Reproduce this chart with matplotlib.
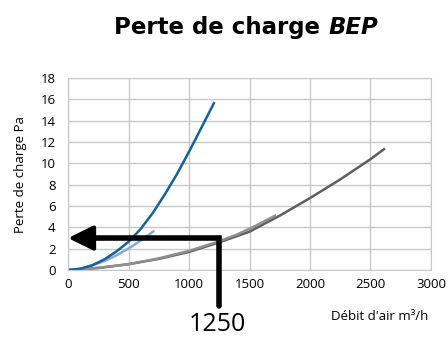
import matplotlib.pyplot as plt
import numpy as np

# Courbes de perte de charge (débit m3/h -> Pa)
debit_bleu = [0, 100, 200, 300, 400, 500, 600, 700, 800, 900, 1000, 1100, 1210]
perte_bleu = [0, 0.12, 0.45, 1.0, 1.75, 2.65, 3.85, 5.35, 7.1, 9.0, 11.1, 13.3, 15.75]

debit_bleu_clair = [0, 100, 200, 300, 400, 500, 600, 713]
perte_bleu_clair = [0, 0.13, 0.43, 0.85, 1.38, 2.02, 2.76, 3.7]

debit_gris_clair = [0, 250, 500, 750, 1000, 1250, 1400, 1550, 1720]
perte_gris_clair = [0, 0.2, 0.55, 1.1, 1.8, 2.7, 3.35, 4.15, 5.15]

debit_gris = [0, 250, 500, 750, 1000, 1250, 1500, 1750, 2000, 2250, 2500, 2620]
perte_gris = [0, 0.2, 0.55, 1.05, 1.7, 2.6, 3.6, 5.1, 6.75, 8.5, 10.4, 11.4]

debit_lecture = 1250
perte_lecture = 3

xticks = [0, 500, 1000, 1500, 2000, 2500, 3000]
yticks = [0, 2, 4, 6, 8, 10, 12, 14, 16, 18]

plt.rcParams['font.family'] = ['Open Sans', 'DejaVu Sans']

fig = plt.figure(figsize=(4.48, 3.38), dpi=100)
ax = fig.add_axes([0.152, 0.201, 0.81, 0.568])

ax.plot(debit_gris, perte_gris, color='#5f5f5f', lw=1.8, solid_capstyle='butt')
ax.plot(debit_gris_clair, perte_gris_clair, color='#8f8f8f', lw=1.8, solid_capstyle='butt')
ax.plot(debit_bleu_clair, perte_bleu_clair, color='#86a9d6', lw=1.8, solid_capstyle='butt')
ax.plot(debit_bleu, perte_bleu, color='#0f62a6', lw=1.8, solid_capstyle='butt')

# lecture du point de fonctionnement
ax.plot([debit_lecture, debit_lecture, 200], [-3.4, perte_lecture, perte_lecture],
        color='black', lw=4, solid_joinstyle='miter', solid_capstyle='round',
        clip_on=False, zorder=5)
ax.annotate('', xy=(0, perte_lecture), xytext=(300, perte_lecture),
            arrowprops=dict(arrowstyle='-|>,head_length=0.85,head_width=0.42',
                            mutation_scale=18, lw=3, color='black',
                            shrinkA=0, shrinkB=0),
            zorder=6, annotation_clip=False)
ax.text(debit_lecture - 20, -5.75, str(debit_lecture), ha='center', va='baseline',
        fontsize=18)

ax.set_xlim(0, 3000)
ax.set_ylim(0, 18)
ax.set_xticks(xticks)
ax.set_yticks(yticks)
ax.tick_params(length=0, labelsize=9.5, pad=6)
ax.tick_params(axis='y', pad=9)
ax.grid(True, color='#c8c8c8', lw=1)
ax.set_axisbelow(True)
for s in ax.spines.values():
    s.set_color('#c8c8c8')

ax.set_ylabel('Perte de charge Pa', fontsize=9.5, labelpad=10)
fig.text(0.848, 0.065, "Débit d'air m³/h", ha='center', va='center', fontsize=9.5)

fig.text(0.733, 0.918, 'Perte de charge ', ha='right', va='center',
         fontsize=16.5, fontweight='bold', family='DejaVu Sans')
fig.text(0.733, 0.918, 'BEP', ha='left', va='center',
         fontsize=16.5, fontweight='bold', style='italic', family='DejaVu Sans')

fig.savefig('out.png', dpi=100)
